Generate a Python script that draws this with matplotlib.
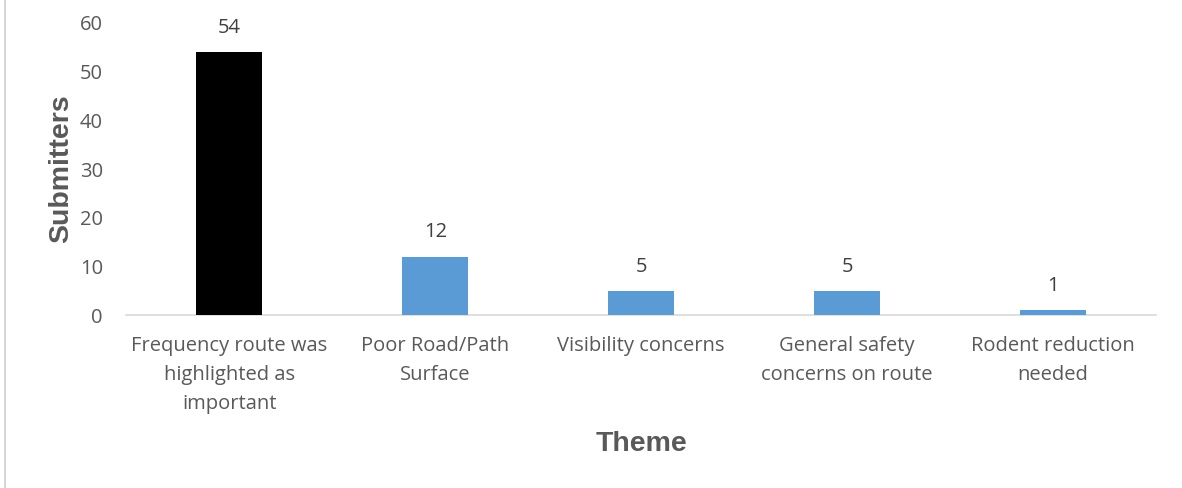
import matplotlib.pyplot as plt
from matplotlib.patches import Rectangle

# data
themes = ["Frequency route was\nhighlighted as\nimportant", "Poor Road/Path\nSurface",
          "Visibility concerns", "General safety\nconcerns on route", "Rodent reduction\nneeded"]
submitters = [54, 12, 5, 5, 1]
bar_colors = ["#000000", "#5b9bd5", "#5b9bd5", "#5b9bd5", "#5b9bd5"]

grey = "#595959"

fig = plt.figure(figsize=(11.82, 4.88), dpi=100)
ax = fig.add_axes([0.107, 0.354, 0.871, 0.599])

x = range(len(themes))
bars = ax.bar(x, submitters, width=0.32, color=bar_colors, zorder=3)
for b, v in zip(bars, submitters):
    ax.text(b.get_x() + b.get_width() / 2, v + 5.0, str(v), ha="center", va="center",
            fontsize=14.5, color="#404040", family="Open Sans")

ax.set_xlim(-0.5, len(themes) - 0.5)
ax.set_ylim(0, 60)
ax.set_yticks(range(0, 61, 10))
ax.set_xticks(list(x))
ax.set_xticklabels(themes, fontsize=14.5, color=grey, family="Open Sans", linespacing=1.6)
ax.tick_params(axis="y", labelsize=14.5, labelcolor=grey, length=0, pad=17)
ax.tick_params(axis="x", length=0, pad=15)
for lab in ax.get_yticklabels():
    lab.set_family("Open Sans")

for s in ["top", "right", "left"]:
    ax.spines[s].set_visible(False)
ax.spines["bottom"].set_color("#d9d9d9")
ax.spines["bottom"].set_linewidth(1.2)

ax.set_ylabel("Submitters", fontsize=20.5, fontweight="bold", color=grey,
              family="Liberation Sans", labelpad=4)
ax.set_xlabel("Theme", fontsize=20.5, fontweight="bold", color=grey,
              family="Liberation Sans", labelpad=12)

# light frame on the left edge like the source image
fig.patches.append(Rectangle((0.004, -0.01), 1.5, 1.02, transform=fig.transFigure,
                             fill=False, edgecolor="#d0d0d0", linewidth=1.2))

fig.savefig("out.png", dpi=100)
